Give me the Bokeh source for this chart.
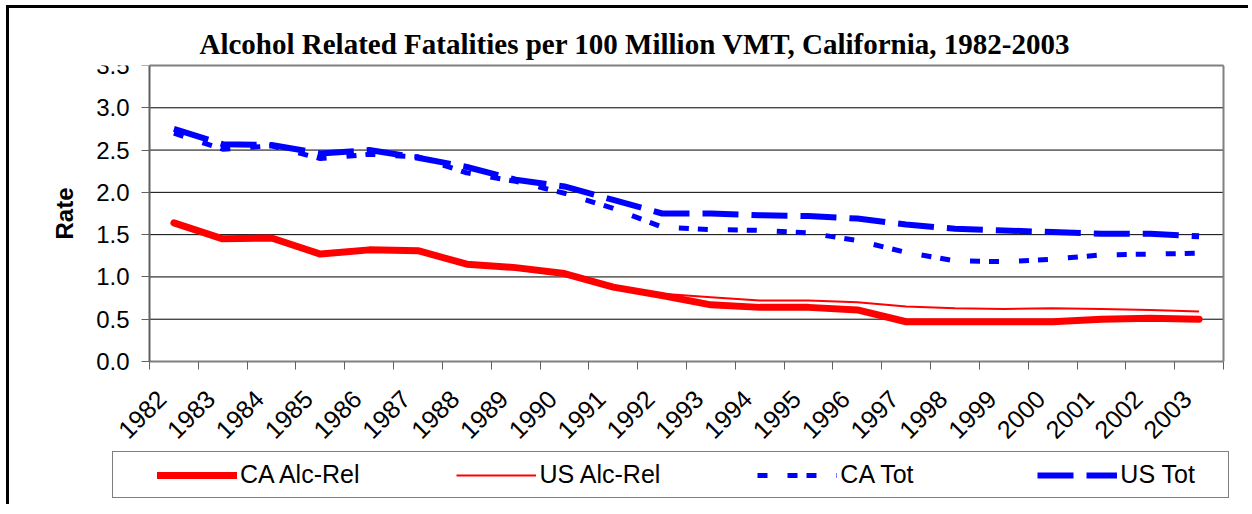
from math import pi
from bokeh.plotting import figure
from bokeh.models import (Range1d, FixedTicker, NumeralTickFormatter, Legend,
                          LegendItem, LinearAxis, Label)
from bokeh.embed import file_html
from bokeh.resources import INLINE

# ---- data ----
years = list(range(1982, 2004))
ca_alc_rel = [1.64, 1.45, 1.46, 1.27, 1.32, 1.31, 1.15, 1.11, 1.04, 0.88, 0.78,
              0.67, 0.64, 0.64, 0.61, 0.47, 0.47, 0.47, 0.47, 0.50, 0.51, 0.50]
us_alc_rel = [1.64, 1.45, 1.46, 1.27, 1.32, 1.31, 1.15, 1.11, 1.04, 0.88, 0.80,
              0.76, 0.72, 0.72, 0.70, 0.65, 0.63, 0.62, 0.63, 0.62, 0.61, 0.59]
ca_tot = [2.70, 2.51, 2.55, 2.40, 2.45, 2.42, 2.23, 2.13, 1.99, 1.81, 1.59,
          1.56, 1.55, 1.52, 1.43, 1.29, 1.19, 1.18, 1.21, 1.26, 1.27, 1.28]
us_tot = [2.75, 2.57, 2.56, 2.46, 2.50, 2.41, 2.30, 2.15, 2.07, 1.91, 1.75,
          1.75, 1.73, 1.72, 1.69, 1.62, 1.57, 1.55, 1.53, 1.51, 1.51, 1.48]
y_ticks = [0.0, 0.5, 1.0, 1.5, 2.0, 2.5, 3.0, 3.5]
series_labels = ["CA Alc-Rel", "US Alc-Rel", "CA Tot", "US Tot"]
title_text = "Alcohol Related Fatalities per 100 Million VMT, California, 1982-2003"

SANS = "Liberation Sans"
SERIF = "Liberation Serif"

# ---- layout: the data area is 1074 x 296 px; the frame is enlarged so that
# axes (fixed in place), their labels and the legend all sit inside it ----
PLOT_W, PLOT_H = 1074, 296
PAD_L, PAD_R = 109, 25          # frame extension left / right of data area
FRAME_H = 439
x_lo, x_hi = years[0] - 0.5, years[-1] + 0.5
y_lo_data, y_hi = y_ticks[0], y_ticks[-1]
px_x = PLOT_W / (x_hi - x_lo)
x_lo_f, x_hi_f = x_lo - PAD_L / px_x, x_hi + PAD_R / px_x
y_lo_f = y_hi - (y_hi - y_lo_data) * FRAME_H / PLOT_H

p = figure(frame_width=PLOT_W + PAD_L + PAD_R, frame_height=FRAME_H,
           output_backend="svg", toolbar_location=None,
           x_range=Range1d(x_lo_f, x_hi_f), y_range=Range1d(y_lo_f, y_hi),
           min_border_left=31, min_border_right=0, min_border_top=57,
           min_border_bottom=0)
p.styles = {"margin-left": "6px", "margin-top": "5px",
            "border-left": "3px solid black", "border-top": "3px solid black"}
p.background_fill_color = "white"
p.border_fill_color = "white"
p.outline_line_color = None

# title
p.title.text = title_text
p.title.align = "left"
p.title.offset = 50 + PAD_L
p.title.standoff = 12
p.title.text_font = SERIF
p.title.text_font_size = "29px"
p.title.text_font_style = "bold"
p.title.text_color = "black"

# x axis: fixed at y = 0, labels centred on categories, ticks on boundaries
xa = p.xaxis[0]
xa.fixed_location = y_lo_data
xa.bounds = (x_lo, x_hi)
label_pos = [y - 0.25 for y in years]
xa.ticker = FixedTicker(ticks=label_pos,
                        minor_ticks=[y - 0.5 for y in years] + [x_hi])
xa.major_label_overrides = {lp: str(y) for lp, y in zip(label_pos, years)}
xa.major_label_orientation = pi / 4
xa.major_tick_out = 0
xa.major_tick_in = 0
xa.minor_tick_out = 8
xa.minor_tick_in = 0
xa.minor_tick_line_color = "#606060"
xa.axis_line_color = "#808080"
xa.axis_line_width = 2
xa.major_label_standoff = 25
xa.major_label_text_font = SANS
xa.major_label_text_font_size = "25px"
xa.major_label_text_color = "black"

# y axis: fixed at the left edge of the data area
ya = p.yaxis[0]
ya.fixed_location = x_lo
ya.bounds = (y_lo_data, y_hi)
ya.ticker = FixedTicker(ticks=y_ticks, minor_ticks=[])
ya.formatter = NumeralTickFormatter(format="0.0")
ya.major_tick_out = 8
ya.major_tick_in = 0
ya.major_tick_line_color = "#606060"
ya.axis_line_color = "#606060"
ya.axis_line_width = 2
ya.major_label_standoff = 12
ya.major_label_text_font = SANS
ya.major_label_text_font_size = "24px"
ya.major_label_text_color = "black"

p.add_layout(Label(x=x_lo - 85 / px_x, y=(y_lo_data + y_hi) / 2, text="Rate",
                   angle=pi / 2, text_align="center", text_baseline="middle",
                   text_font=SANS, text_font_size="24px",
                   text_font_style="bold", text_color="black"))

# gray border of the data area (top and right)
top_axis = LinearAxis(ticker=FixedTicker(ticks=[]), bounds=(x_lo, x_hi),
                      axis_line_color="#808080", axis_line_width=2,
                      major_tick_out=0, major_tick_in=0, minor_tick_out=0,
                      minor_tick_in=0, major_label_standoff=0)
right_axis = LinearAxis(ticker=FixedTicker(ticks=[]), bounds=(y_lo_data, y_hi),
                        fixed_location=x_hi,
                        axis_line_color="#808080", axis_line_width=2,
                        major_tick_out=0, major_tick_in=0, minor_tick_out=0,
                        minor_tick_in=0, major_label_standoff=0)
p.add_layout(top_axis, "above")
p.add_layout(right_axis, "right")

# horizontal gridlines limited to the data area
p.xgrid.visible = False
p.ygrid.visible = False
grid_y = y_ticks[1:]
p.segment(x0=[x_lo] * len(grid_y), x1=[x_hi] * len(grid_y),
          y0=grid_y, y1=grid_y, line_color="black", line_width=1)

# series
r1 = p.line(years, ca_alc_rel, line_color="#FF0000", line_width=7,
            line_cap="round", line_join="round")
r2 = p.line(years, us_alc_rel, line_color="#FF0000", line_width=2)
r3 = p.line(years, ca_tot, line_color="#0000FF", line_width=5,
            line_dash="10 20 10 9")
r4 = p.line(years, us_tot, line_color="#0000FF", line_width=6,
            line_dash="36 13")

legend = Legend(
    items=[LegendItem(label=lbl, renderers=[r]) for lbl, r in
           zip(series_labels, [r1, r2, r3, r4])],
    orientation="horizontal", location=(PAD_L - 37, 6), padding=8, spacing=97,
    glyph_width=80, glyph_height=20, label_standoff=3, label_width=100,
    title=" ", title_location="left", title_standoff=35,
    title_text_font_size="1px", title_text_alpha=0,
    label_text_font=SANS, label_text_font_size="25px", label_text_color="black",
    border_line_color="black", border_line_width=1.5,
    background_fill_color="white", background_fill_alpha=1, margin=0)
p.add_layout(legend)

open("out.html", "w").write(file_html(p, INLINE))
